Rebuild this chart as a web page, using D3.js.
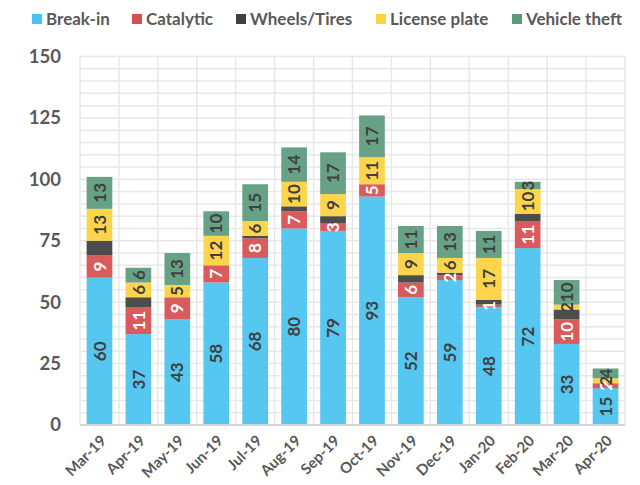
<!DOCTYPE html>
<html>
<head>
<meta charset="utf-8">
<script src="https://cdn.jsdelivr.net/npm/d3@7"></script>
<style>
  body { margin: 0; background: #fff; }
  text { font-family: Lato, "Open Sans", sans-serif; font-weight: bold; }
</style>
</head>
<body>
<script>
const months = ["Mar-19", "Apr-19", "May-19", "Jun-19", "Jul-19", "Aug-19", "Sep-19",
  "Oct-19", "Nov-19", "Dec-19", "Jan-20", "Feb-20", "Mar-20", "Apr-20"];
const seriesNames = ["Break-in", "Catalytic", "Wheels/Tires", "License plate", "Vehicle theft"];
const breakIn = [60, 37, 43, 58, 68, 80, 79, 93, 52, 59, 48, 72, 33, 15];
const catalytic = [9, 11, 9, 7, 8, 7, 3, 5, 6, 2, 1, 11, 10, 2];
const wheelsTires = [6, 4, 0, 0, 1, 2, 3, 0, 3, 1, 2, 3, 4, 0];
const licensePlate = [13, 6, 5, 12, 6, 10, 9, 11, 9, 6, 17, 10, 2, 2];
const vehicleTheft = [13, 6, 13, 10, 15, 14, 17, 17, 11, 13, 11, 3, 10, 4];
const yTicks = [0, 25, 50, 75, 100, 125, 150];

const colors = ["#48c3f0", "#d64f4f", "#404040", "#fdd23f", "#5b9a7d"];
const labelColors = ["#404040", "#ffffff", null, "#404040", "#404040"];

const wSvg = 640;
const hSvg = 485;
const plotLeft = 80, plotRight = 625, plotTop = 56.5, plotBottom = 425;

const allSeries = [breakIn, catalytic, wheelsTires, licensePlate, vehicleTheft];
const table = months.map((m, i) => {
  let row = { month: m };
  seriesNames.forEach((s, k) => row[s] = allSeries[k][i]);
  return row;
});
const stacked = d3.stack().keys(seriesNames)(table);

let xScale = d3.scaleBand(months, [plotLeft, plotRight]).paddingInner(0.34).paddingOuter(0.17);
let yScale = d3.scaleLinear([0, 150], [plotBottom, plotTop]);

let svg = d3.select("body").append("svg")
  .attr("width", wSvg)
  .attr("height", hSvg);

// horizontal gridlines every 5
svg.append("g")
  .selectAll("line")
  .data(d3.range(5, 151, 5))
  .enter()
  .append("line")
  .attr("x1", plotLeft).attr("x2", plotRight)
  .attr("y1", d => yScale(d)).attr("y2", d => yScale(d))
  .attr("stroke", "#e8e8e8")
  .attr("stroke-width", 1.5);

// vertical gridlines at category boundaries
svg.append("g")
  .selectAll("line")
  .data(d3.range(months.length + 1))
  .enter()
  .append("line")
  .attr("x1", i => plotLeft + i * (plotRight - plotLeft) / months.length)
  .attr("x2", i => plotLeft + i * (plotRight - plotLeft) / months.length)
  .attr("y1", plotTop).attr("y2", plotBottom)
  .attr("stroke", "#e8e8e8")
  .attr("stroke-width", 1.5);

// bars
let layers = svg.append("g")
  .selectAll("g")
  .data(stacked)
  .enter()
  .append("g")
  .attr("fill", (d, i) => colors[i]);

layers.selectAll("rect")
  .data(d => d)
  .enter()
  .append("rect")
  .attr("x", d => xScale(d.data.month))
  .attr("width", xScale.bandwidth())
  .attr("y", d => yScale(d[1]))
  .attr("height", d => yScale(d[0]) - yScale(d[1]))
  .attr("fill-opacity", 0.93);

// bottom axis line
svg.append("line")
  .attr("x1", plotLeft).attr("x2", plotRight)
  .attr("y1", plotBottom).attr("y2", plotBottom)
  .attr("stroke", "#d6d6d6")
  .attr("stroke-width", 2);

// value labels
stacked.forEach((layer, k) => {
  if (!labelColors[k]) return;
  svg.append("g")
    .selectAll("text")
    .data(layer.filter(d => d[1] - d[0] > 0))
    .enter()
    .append("text")
    .attr("transform", d => {
      let cx = xScale(d.data.month) + xScale.bandwidth() / 2;
      let cy = yScale((d[0] + d[1]) / 2);
      return `translate(${cx},${cy}) rotate(-90)`;
    })
    .attr("text-anchor", "middle")
    .attr("dy", "0.36em")
    .attr("font-size", "17px")
    .attr("fill", labelColors[k])
    .text(d => d[1] - d[0]);
});

// y axis labels
svg.append("g")
  .selectAll("text")
  .data(yTicks)
  .enter()
  .append("text")
  .attr("x", 61)
  .attr("y", d => yScale(d))
  .attr("dy", "0.35em")
  .attr("text-anchor", "end")
  .attr("font-size", "18.5px")
  .attr("fill", "#595959")
  .text(d => d);

// x axis labels
svg.append("g")
  .selectAll("text")
  .data(months)
  .enter()
  .append("text")
  .attr("transform", d => `translate(${xScale(d) + xScale.bandwidth() / 2 + 4},${plotBottom + 13}) rotate(-45)`)
  .attr("text-anchor", "end")
  .attr("dy", "0.35em")
  .attr("font-size", "15px")
  .attr("fill", "#595959")
  .text(d => d);

// legend
const legendX = [32, 132, 236, 376, 512];
let legend = svg.append("g")
  .selectAll("g")
  .data(seriesNames)
  .enter()
  .append("g")
  .attr("transform", (d, i) => `translate(${legendX[i]}, 19)`);

legend.append("rect")
  .attr("x", 0).attr("y", -5)
  .attr("width", 10).attr("height", 10)
  .attr("fill", (d, i) => colors[i]);

legend.append("text")
  .attr("x", 14)
  .attr("dy", "0.36em")
  .attr("font-size", "17px")
  .attr("fill", "#595959")
  .text(d => d);
</script>
</body>
</html>
